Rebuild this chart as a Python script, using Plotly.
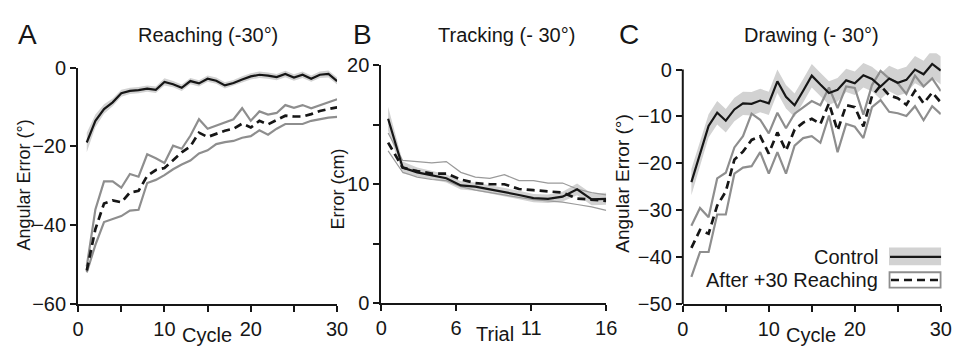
import plotly.graph_objects as go

# ---------------- data ----------------
cycles = list(range(1, 31))
trials = list(range(1, 17))

reach_ctrl_mean = [-19.0, -13.5, -10.5, -8.8, -6.5, -5.9, -5.7, -5.3, -5.6, -3.6,
                   -4.2, -5.1, -3.4, -4.0, -2.8, -3.3, -4.5, -3.9, -3.0, -2.2,
                   -1.8, -2.0, -2.4, -1.6, -2.5, -1.8, -2.8, -1.8, -1.6, -3.4]
reach_ctrl_sem = [2.5, 1.6, 1.2, 1.0, 0.9, 0.8, 0.8, 0.8, 0.8, 0.9,
                  0.8, 0.8, 0.8, 0.8, 0.8, 0.8, 0.8, 0.8, 0.8, 0.8,
                  0.8, 0.8, 0.8, 0.8, 0.8, 0.8, 0.8, 0.8, 0.9, 0.9]
reach_after_mean = [-51.5, -41.0, -34.5, -33.7, -34.2, -31.7, -31.3, -27.5, -26.0, -25.5,
                    -23.5, -21.5, -20.0, -16.5, -17.6, -16.8, -16.0, -15.5, -14.2, -15.2,
                    -13.5, -14.4, -13.2, -12.2, -12.4, -12.4, -11.8, -11.0, -10.5, -10.1]
reach_after_upper = [-50.5, -36.0, -28.9, -28.9, -30.5, -27.0, -27.7, -22.0, -23.0, -24.2,
                     -19.8, -20.6, -17.3, -13.1, -15.5, -14.7, -13.9, -13.1, -10.3, -13.5,
                     -11.1, -11.9, -11.5, -9.5, -10.2, -9.5, -10.3, -9.5, -8.7, -8.0]
reach_after_lower = [-52.0, -45.0, -39.2, -38.4, -37.7, -36.3, -36.1, -29.3, -28.5, -27.3,
                     -25.8, -24.6, -23.6, -21.8, -21.0, -19.4, -18.9, -18.6, -17.8, -17.4,
                     -15.9, -17.0, -15.5, -14.3, -14.3, -14.3, -13.5, -13.1, -12.7, -12.5]

track_ctrl_mean = [15.5, 11.4, 11.0, 10.75, 10.5, 9.9, 9.8, 9.57, 9.36, 9.1,
                   8.84, 8.78, 8.96, 9.57, 8.73, 8.78]
track_ctrl_sem = [1.0, 0.5, 0.4, 0.35, 0.35, 0.35, 0.35, 0.35, 0.35, 0.35,
                  0.35, 0.35, 0.4, 0.5, 0.5, 0.5]
track_after_mean = [13.5, 11.4, 11.1, 10.9, 10.9, 10.4, 10.1, 10.0, 10.0, 9.6,
                    9.5, 9.4, 9.3, 8.8, 8.7, 8.6]
track_after_upper = [14.3, 12.0, 11.9, 11.8, 11.9, 11.0, 10.6, 10.5, 10.8, 10.3,
                     10.3, 10.1, 10.1, 9.6, 9.3, 9.1]
track_after_lower = [12.8, 11.0, 10.6, 10.4, 10.3, 9.8, 9.5, 9.3, 9.1, 8.9,
                     8.7, 8.6, 8.5, 8.3, 8.1, 7.8]

draw_ctrl_mean = [-24.0, -18.0, -12.0, -9.2, -10.9, -8.5, -7.2, -7.3, -6.6, -7.2,
                  -2.5, -5.8, -7.6, -4.5, -1.3, -3.2, -5.0, -4.3, -2.3, -2.9,
                  -1.2, -2.0, -3.6, -1.9, -2.8, -2.2, 0.0, -1.0, 1.2, -0.2]
draw_ctrl_sem = [2.8, 2.6, 2.5, 2.5, 2.5, 2.5, 2.5, 2.5, 2.5, 2.5,
                 2.5, 2.5, 2.5, 2.5, 2.5, 2.5, 2.5, 2.5, 2.5, 2.5,
                 2.6, 2.6, 2.7, 2.7, 2.8, 2.8, 2.9, 2.9, 3.0, 3.0]
draw_after_mean = [-38.0, -34.2, -35.0, -29.0, -26.0, -19.2, -17.5, -15.0, -14.2, -17.9,
                   -13.4, -17.3, -12.8, -11.3, -10.5, -11.6, -7.2, -13.0, -7.6, -8.0,
                   -12.1, -5.7, -3.4, -5.5, -6.1, -7.5, -4.5, -7.2, -4.9, -7.0]
draw_after_upper = [-33.3, -29.5, -31.5, -23.2, -22.0, -16.6, -14.2, -9.4, -10.7, -13.6,
                    -9.2, -12.5, -9.4, -8.0, -6.7, -7.6, -3.8, -8.2, -3.6, -3.9,
                    -9.6, -3.3, -0.3, -1.9, -2.9, -5.2, -1.3, -3.6, -1.9, -4.6]
draw_after_lower = [-44.2, -38.9, -38.9, -30.9, -30.9, -22.2, -20.9, -20.6, -17.6, -22.2,
                    -17.6, -22.2, -16.2, -14.6, -14.2, -15.6, -9.8, -17.6, -11.6, -12.2,
                    -14.6, -8.0, -6.5, -9.0, -9.3, -9.9, -7.8, -10.8, -7.8, -9.5]

reach_xticks = [0, 5, 10, 15, 20, 25, 30]
reach_xlabels = ["0", "", "10", "", "20", "", "30"]
reach_yticks = [-60, -40, -20, 0]
track_xticks = [0.53, 5.68, 10.84, 16]
track_xlabels = ["0", "6", "11", "16"]
track_yticks = [0, 5, 10, 15, 20]
track_ylabels = ["0", "", "10", "", "20"]
draw_yticks = [-50, -40, -30, -20, -10, 0]

# ---------------- styling ----------------
# The page body keeps its default 8px margin, so the figure is sized to fit
# inside the 964x361 window and all layout positions are given in window pixels.
WIN_W, WIN_H, BODY = 964, 361, 8
W, H = WIN_W - 2 * BODY, WIN_H - 2 * BODY
FONT = "Liberation Sans, Arial, sans-serif"
INK = "#161616"
BAND = "#d2d2d2"
ENV = "#8e8e8e"


def px(x):
    return (x - BODY) / W


def py(y):
    return 1 - (y - BODY) / H


fig = go.Figure()


def add_panel(xs, cm, cs, am, au, al, xa, ya, env_w, env_col):
    up = [m + s for m, s in zip(cm, cs)]
    lo = [m - s for m, s in zip(cm, cs)]
    fig.add_trace(go.Scatter(x=xs + xs[::-1], y=up + lo[::-1], fill="toself",
                             fillcolor=BAND, line=dict(width=0), mode="lines",
                             xaxis=xa, yaxis=ya, hoverinfo="skip", showlegend=False))
    for env in (au, al):
        fig.add_trace(go.Scatter(x=xs, y=env, mode="lines",
                                 line=dict(color=env_col, width=env_w),
                                 xaxis=xa, yaxis=ya, showlegend=False))
    fig.add_trace(go.Scatter(x=xs, y=cm, mode="lines",
                             line=dict(color=INK, width=2.2),
                             xaxis=xa, yaxis=ya, showlegend=False))
    fig.add_trace(go.Scatter(x=xs, y=am, mode="lines",
                             line=dict(color=INK, width=2.7, dash="8px,5px"),
                             xaxis=xa, yaxis=ya, showlegend=False))


add_panel(cycles, reach_ctrl_mean, reach_ctrl_sem, reach_after_mean,
          reach_after_upper, reach_after_lower, "x", "y", 2.2, ENV)
add_panel(trials, track_ctrl_mean, track_ctrl_sem, track_after_mean,
          track_after_upper, track_after_lower, "x2", "y2", 1.2, "#9a9a9a")
add_panel(cycles, draw_ctrl_mean, draw_ctrl_sem, draw_after_mean,
          draw_after_upper, draw_after_lower, "x3", "y3", 2.2, ENV)

tickfont = dict(family=FONT, size=20, color=INK)
axbase = dict(showgrid=False, zeroline=False, ticks="outside", ticklen=6,
              tickwidth=2, tickcolor=INK, tickfont=tickfont, linecolor=INK,
              linewidth=2, fixedrange=True)

# panel C top extends above 0 so the band is not clipped
c_top_px = 62 - 3.5 * 5.0

fig.update_layout(
    width=W, height=H, margin=dict(l=0, r=0, t=0, b=0),
    paper_bgcolor="white", plot_bgcolor="white", showlegend=False,
    font=dict(family=FONT, color=INK),
    xaxis=dict(axbase, domain=[px(73.3), px(337)], range=[0, 30],
               tickvals=reach_xticks, ticktext=reach_xlabels, showline=True, anchor="y"),
    yaxis=dict(axbase, domain=[py(312.3), py(60)], range=[-60, 0],
               tickvals=reach_yticks, showline=True, anchor="x"),
    xaxis2=dict(axbase, domain=[px(382), px(611)], range=[0.53, 16],
                tickvals=track_xticks, ticktext=track_xlabels, showline=True, anchor="y2"),
    yaxis2=dict(axbase, domain=[py(311.7), py(57.3)], range=[0, 20],
                tickvals=track_yticks, ticktext=track_ylabels, showline=True, anchor="x2"),
    xaxis3=dict(axbase, domain=[px(689), px(951.7)], range=[0, 30],
                tickvals=reach_xticks, ticktext=reach_xlabels, showline=True, anchor="y3"),
    yaxis3=dict(axbase, domain=[py(312.5), py(c_top_px)], range=[-50, 3.5],
                tickvals=draw_yticks, showline=False, anchor="x3"),
)

shapes = [
    # y axis line of panel C (from -50 to 0 only)
    dict(type="line", xref="paper", yref="y3", x0=px(689), x1=px(689), y0=-50, y1=0,
         line=dict(color=INK, width=2)),
    # legend swatches
    dict(type="rect", xref="paper", yref="paper", x0=px(899), x1=px(952),
         y0=py(271), y1=py(252), fillcolor=BAND, line=dict(width=0)),
    dict(type="line", xref="paper", yref="paper", x0=px(900), x1=px(952),
         y0=py(262), y1=py(262), line=dict(color=INK, width=2.2)),
    dict(type="rect", xref="paper", yref="paper", x0=px(899.5), x1=px(951.5),
         y0=py(295), y1=py(278.5), fillcolor="white", line=dict(color=ENV, width=1.8)),
    dict(type="line", xref="paper", yref="paper", x0=px(901), x1=px(950),
         y0=py(286.8), y1=py(286.8), line=dict(color=INK, width=2.7, dash="8px,5px")),
]
fig.update_layout(shapes=shapes)


def ann(text, x, y, size, angle=0, xanchor="center"):
    return dict(text=text, x=px(x), y=py(y), xref="paper", yref="paper",
                showarrow=False, textangle=angle, xanchor=xanchor, yanchor="middle",
                font=dict(family=FONT, size=size, color=INK))


annotations = [
    ann("A", 22, 25, 28), ann("B", 363, 25, 28), ann("C", 634, 25, 28),
    ann("Reaching (-30°)", 206, 25, 20),
    ann("Tracking (- 30°)", 509, 25, 20),
    ann("Drawing (- 30°)", 820, 25, 20),
    ann("Angular Error (°)", 18, 185, 18, -90),
    ann("Error (cm)", 338, 190, 18, -90),
    ann("Angular Error (°)", 628, 183, 19, -90),
    ann("Cycle", 205, 345, 20),
    ann("Trial", 498, 344, 20),
    ann("Cycle", 820, 345, 20),
    ann("Control", 890, 262, 20, xanchor="right"),
    ann("After +30 Reaching", 890, 287, 20, xanchor="right"),
]
fig.update_layout(annotations=annotations)

fig.write_html("out.html", config={"displayModeBar": False})
